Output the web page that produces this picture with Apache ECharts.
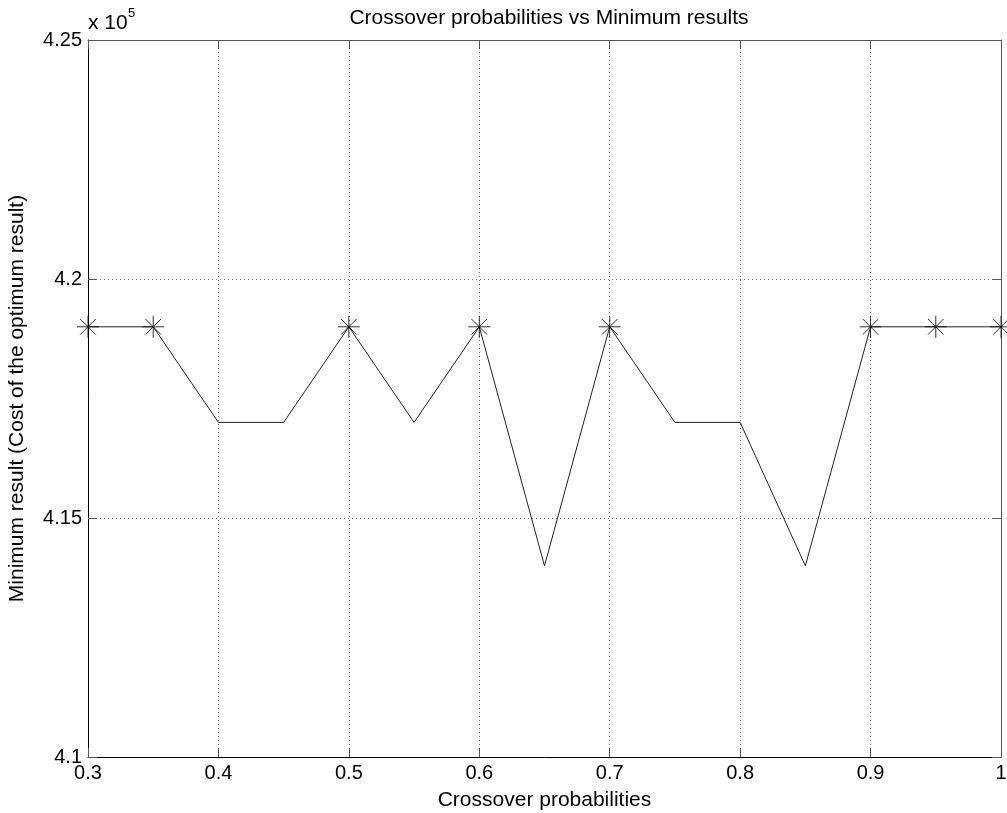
<!DOCTYPE html>
<html><head><meta charset="utf-8">
<script src="https://cdn.jsdelivr.net/npm/echarts@6/dist/echarts.min.js"></script>
<style>html,body{margin:0;padding:0;background:#fff}#c{width:1007px;height:813px}</style>
</head><body><div id="c"></div>
<script>
const xValues = [0.3,0.35,0.4,0.45,0.5,0.55,0.6,0.65,0.7,0.75,0.8,0.85,0.9,0.95,1.0];
const minResults = [419000,419000,417000,417000,419000,417000,419000,414000,419000,417000,417000,414000,419000,419000,419000];
const starX = [0.3,0.35,0.5,0.6,0.7,0.9,0.95,1.0];
const starY = [419000,419000,419000,419000,419000,419000,419000,419000];
const titleText = 'Crossover probabilities vs Minimum results';
const xName = 'Crossover probabilities';
const yName = 'Minimum result (Cost of the optimum result)';

const FONT = '"Liberation Sans", Arial, sans-serif';
const chart = echarts.init(document.getElementById('c'));
const asterisk = 'path://M12,0L12,24M0,12L24,12M3.5,3.5L20.5,20.5M20.5,3.5L3.5,20.5';
const grid = {left:88, right:6, top:40, bottom:56, containLabel:false, outerBoundsMode:'none'};
const split = {show:true, lineStyle:{color:'#777', type:[1,3], width:1}};
const tick = {show:true, inside:true, length:9, lineStyle:{color:'#555'}};
chart.setOption({
  animation:false,
  title:{text:titleText, left:544, textAlign:'center', top:3,
    textStyle:{fontFamily:FONT, fontSize:21, fontWeight:'normal', color:'#000'}},
  grid:grid,
  xAxis:[{type:'value', min:0.3, max:1.0, interval:0.1,
    name:xName, nameLocation:'middle', nameGap:33,
    nameTextStyle:{fontFamily:FONT, fontSize:21, color:'#000'},
    axisLine:{show:true, onZero:false, lineStyle:{color:'#000', width:1}},
    axisTick:tick, splitLine:split,
    axisLabel:{fontFamily:FONT, fontSize:20, color:'#000', margin:6,
      formatter:v=>String(Math.round(v*10)/10)}},
   {type:'value', position:'top', min:0.3, max:1.0, interval:0.1,
    axisLine:{show:true, onZero:false, lineStyle:{color:'#555'}},
    axisTick:tick, axisLabel:{show:false}, splitLine:{show:false}}],
  yAxis:[{type:'value', min:410000, max:425000, interval:5000,
    name:yName, nameLocation:'middle', nameGap:60,
    nameTextStyle:{fontFamily:FONT, fontSize:21, color:'#000'},
    axisLine:{show:true, onZero:false, lineStyle:{color:'#000', width:1}},
    axisTick:tick, splitLine:split,
    axisLabel:{fontFamily:FONT, fontSize:20, color:'#000', margin:6,
      formatter:v=>String(Math.round(v/1e5*100)/100)}},
   {type:'value', position:'right', min:410000, max:425000, interval:5000,
    axisLine:{show:true, onZero:false, lineStyle:{color:'#555'}},
    axisTick:tick, axisLabel:{show:false}, splitLine:{show:false}}],
  graphic:[
    {type:'text', left:88, top:13, style:{text:'x 10', fontFamily:FONT, fontSize:21, fill:'#000'}},
    {type:'text', left:128, top:7, style:{text:'5', fontFamily:FONT, fontSize:13, fill:'#000'}}
  ],
  series:[
    {type:'line', data:xValues.map((x,i)=>[x,minResults[i]]), showSymbol:false,
     lineStyle:{color:'#222', width:1}, z:3},
    {type:'scatter', data:starX.map((x,i)=>[x,starY[i]]), symbol:asterisk, symbolSize:22,
     itemStyle:{color:'none', borderColor:'#000', borderWidth:1}, z:4, clip:false}
  ]
});
</script></body></html>
